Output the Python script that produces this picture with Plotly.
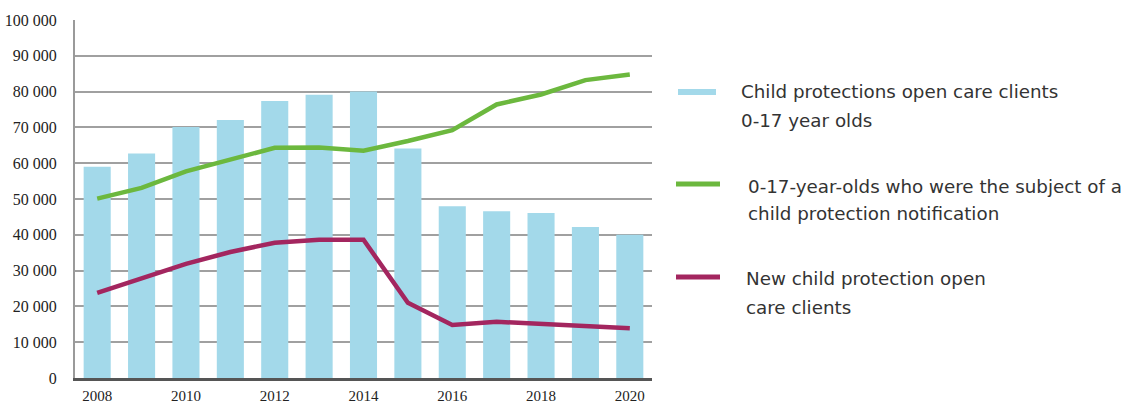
import plotly.graph_objects as go

# ---------------- data ----------------
years = [2008, 2009, 2010, 2011, 2012, 2013, 2014, 2015, 2016, 2017, 2018, 2019, 2020]
open_care_clients = [59000, 62700, 70100, 72100, 77400, 79100, 80000, 64100, 48000, 46600, 46100, 42200, 40000]
notification_subjects = [50100, 53100, 57700, 61000, 64300, 64400, 63500, 66200, 69200, 76400, 79200, 83200, 84800]
new_open_care_clients = [23800, 28000, 31900, 35200, 37800, 38600, 38600, 21000, 14800, 15700, 15100, 14400, 13900]

x_tick_years = [2008, 2010, 2012, 2014, 2016, 2018, 2020]
y_tick_values = [0, 10000, 20000, 30000, 40000, 50000, 60000, 70000, 80000, 90000, 100000]

series_names = [
    "Child protections open care clients 0-17 year olds",
    "0-17-year-olds who were the subject of a child protection notification",
    "New child protection open care clients",
]
legend_lines = [
    ["Child protections open care clients", "0-17 year olds"],
    ["0-17-year-olds who were the subject of a", "child protection notification"],
    ["New child protection open", "care clients"],
]

BLUE = "#a3d9ea"
GREEN = "#6cb83e"
MAROON = "#a3265f"
colors = [BLUE, GREEN, MAROON]

# ---------------- layout geometry ----------------
W, H = 1136, 406
L, R, T, B = 75, 1136 - 652, 20, 406 - 378
PW, PH = W - L - R, H - T - B


def px(xp):
    return (xp - L) / PW


def py(yp):
    return (H - B - yp) / PH


fig = go.Figure()

fig.add_trace(go.Bar(
    x=years, y=open_care_clients, name=series_names[0],
    marker=dict(color=BLUE, line=dict(width=0)),
    showlegend=False,
))
fig.add_trace(go.Scatter(
    x=years, y=notification_subjects, name=series_names[1], mode="lines",
    line=dict(color=GREEN, width=4.5), showlegend=False,
))
fig.add_trace(go.Scatter(
    x=years, y=new_open_care_clients, name=series_names[2], mode="lines",
    line=dict(color=MAROON, width=4.5), showlegend=False,
))

# ---------------- legend (drawn as text + swatches) ----------------
legend_pos = [
    # swatch x0, x1, y, swatch thickness, text x, first line y, second line y
    (678, 716, 92, 6, 739, 91, 121),
    (676, 720, 184, 5, 746, 186, 214),
    (676, 720, 277, 5, 744, 278, 307),
]
shapes = []
annotations = []
for (sx0, sx1, sy, sw, tx, ty1, ty2), lines, col in zip(legend_pos, legend_lines, colors):
    shapes.append(dict(type="line", xref="paper", yref="paper",
                       x0=px(sx0), x1=px(sx1), y0=py(sy), y1=py(sy),
                       line=dict(color=col, width=sw)))
    for ty, txt in zip((ty1, ty2), lines):
        annotations.append(dict(xref="paper", yref="paper", x=px(tx), y=py(ty),
                                xanchor="left", yanchor="middle", showarrow=False,
                                text=txt, font=dict(family="DejaVu Sans", size=18.3, color="#333333")))

fig.update_layout(
    template="none",
    width=W, height=H,
    margin=dict(l=L, r=R, t=T, b=B, pad=0, autoexpand=False),
    paper_bgcolor="white", plot_bgcolor="white",
    separators=". ",
    bargap=0.39,
    showlegend=False,
    shapes=shapes,
    annotations=annotations,
    xaxis=dict(
        automargin=False,
        range=[2007.5, 2020.5],
        tickmode="array", tickvals=x_tick_years, ticktext=[str(v) for v in x_tick_years],
        showgrid=False, zeroline=False,
        showline=True, linecolor="#555555", linewidth=3,
        ticks="", ticklabelstandoff=2,
        tickfont=dict(family="Liberation Serif", size=15, color="#222222"),
    ),
    yaxis=dict(
        automargin=False,
        range=[0, 100000],
        tickmode="array", tickvals=y_tick_values, tickformat=",d",
        showgrid=True, gridcolor="#a0a0a0", gridwidth=1.6,
        zeroline=False,
        showline=True, linecolor="#9a9a9a", linewidth=2,
        ticks="", ticklabelstandoff=13,
        tickfont=dict(family="Liberation Serif", size=16, color="#222222"),
    ),
)

fig.write_html("out.html", config={"displayModeBar": False},
               post_script="document.body.style.margin='0';")
